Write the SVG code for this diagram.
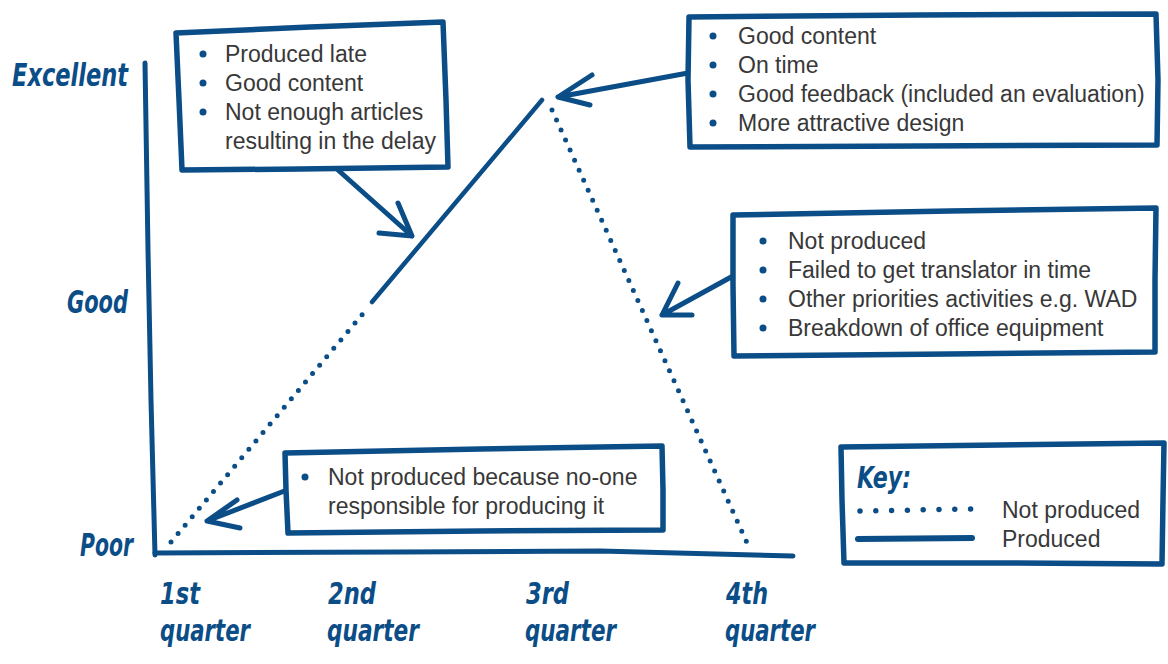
<svg xmlns="http://www.w3.org/2000/svg" width="1168" height="664" viewBox="0 0 1168 664">
<style>
.ln{fill:none;stroke:#0b4d87;stroke-width:5;stroke-linecap:round;stroke-linejoin:round}
.box{fill:#fff;stroke:#0b4d87;stroke-width:5.5;stroke-linejoin:round}
.dot{fill:none;stroke:#0b4d87;stroke-width:5;stroke-linecap:round;stroke-dasharray:0 11}
.sol{fill:none;stroke:#0b4d87;stroke-width:4.5;stroke-linecap:round}
.hand{font-family:"Liberation Sans Narrow","DejaVu Sans Condensed","Liberation Sans",sans-serif;font-weight:bold;font-style:italic;fill:#0b4d87}
.txt{font-family:"Liberation Sans",Arial,sans-serif;font-size:23px;fill:#383838}
.bul{fill:#0b4d87}
</style>
<rect width="1168" height="664" fill="#fff"/>
<g id="axes">
<path class="ln" d="M145,63 L148,250 L151,400 L155,555"/>
<path class="ln" d="M155,553 L400,552 L600,551 L793,556"/>
<text class="hand" x="12" y="86" font-size="32" textLength="116" lengthAdjust="spacingAndGlyphs">Excellent</text>
<text class="hand" x="67" y="313" font-size="32" textLength="61" lengthAdjust="spacingAndGlyphs">Good</text>
<text class="hand" x="80" y="556" font-size="32" textLength="53" lengthAdjust="spacingAndGlyphs">Poor</text>
<text class="hand" x="160" y="604" font-size="30" textLength="40" lengthAdjust="spacingAndGlyphs">1st</text>
<text class="hand" x="160" y="641" font-size="30" textLength="90" lengthAdjust="spacingAndGlyphs">quarter</text>
<text class="hand" x="328" y="604" font-size="30" textLength="48" lengthAdjust="spacingAndGlyphs">2nd</text>
<text class="hand" x="327" y="641" font-size="30" textLength="92" lengthAdjust="spacingAndGlyphs">quarter</text>
<text class="hand" x="526" y="604" font-size="30" textLength="43" lengthAdjust="spacingAndGlyphs">3rd</text>
<text class="hand" x="525" y="641" font-size="30" textLength="91" lengthAdjust="spacingAndGlyphs">quarter</text>
<text class="hand" x="726" y="604" font-size="30" textLength="42" lengthAdjust="spacingAndGlyphs">4th</text>
<text class="hand" x="725" y="641" font-size="30" textLength="90" lengthAdjust="spacingAndGlyphs">quarter</text>
</g>
<g id="trend">
<path class="dot" d="M171,542 L366,310"/>
<path class="sol" d="M372,302 L542,100"/>
<path class="dot" d="M552,110 L748,545"/>
</g>
<g id="connectors">
<path class="ln" d="M338,170 L412,236 M379,233 L412,236 L398,203"/>
<path class="ln" d="M688,73 L558,97 M592,75 L558,97 L590,105"/>
<path class="ln" d="M733,276 L662,315 M678,283 L662,315 L692,315"/>
<path class="ln" d="M287,490 L207,521 M237,500 L207,521 L240,528"/>
</g>
<g id="box1">
<path class="box" d="M176,33 L310,27 L443,22 L446,100 L448,167 L300,169 L182,170 L179,100 Z"/>
<circle class="bul" cx="203" cy="54" r="3.5"/><text class="txt" x="225" y="62">Produced late</text>
<circle class="bul" cx="203" cy="83" r="3.5"/><text class="txt" x="225" y="91">Good content</text>
<circle class="bul" cx="203" cy="112" r="3.5"/><text class="txt" x="225" y="120">Not enough articles</text>
<text class="txt" x="225" y="149">resulting in the delay</text>
</g>
<g id="box2">
<path class="box" d="M689,17 L920,15 L1156,14 L1158,80 L1157,145 L920,146 L690,147 L688,80 Z"/>
<circle class="bul" cx="713" cy="36" r="3.5"/><text class="txt" x="738" y="44">Good content</text>
<circle class="bul" cx="713" cy="65" r="3.5"/><text class="txt" x="738" y="73">On time</text>
<circle class="bul" cx="713" cy="94" r="3.5"/><text class="txt" x="738" y="102">Good feedback (included an evaluation)</text>
<circle class="bul" cx="713" cy="123" r="3.5"/><text class="txt" x="738" y="131">More attractive design</text>
</g>
<g id="box3">
<path class="box" d="M733,215 L950,211 L1156,208 L1155,280 L1155,352 L950,354 L734,356 L733,285 Z"/>
<circle class="bul" cx="763" cy="241" r="3.5"/><text class="txt" x="788" y="249">Not produced</text>
<circle class="bul" cx="763" cy="270" r="3.5"/><text class="txt" x="788" y="278">Failed to get translator in time</text>
<circle class="bul" cx="763" cy="299" r="3.5"/><text class="txt" x="788" y="307">Other priorities activities e.g. WAD</text>
<circle class="bul" cx="763" cy="328" r="3.5"/><text class="txt" x="788" y="336">Breakdown of office equipment</text>
</g>
<g id="box4">
<path class="box" d="M285,453 L480,449 L662,446 L663,490 L663,530 L480,531 L288,533 L286,490 Z"/>
<circle class="bul" cx="305" cy="477" r="3.5"/><text class="txt" x="328" y="485">Not produced because no-one</text>
<text class="txt" x="328" y="514">responsible for producing it</text>
</g>
<g id="key">
<path class="box" d="M841,447 L1000,445 L1164,443 L1163,500 L1162,564 L1000,563 L844,563 L842,500 Z"/>
<text class="hand" x="857" y="488" font-size="30" textLength="54" lengthAdjust="spacingAndGlyphs">Key:</text>
<path class="dot" d="M860,511 L972,509" style="stroke-dasharray:0 15.8;stroke-width:5.5"/>
<path class="sol" d="M858,539 L972,538" style="stroke-width:6"/>
<text class="txt" x="1002" y="518">Not produced</text>
<text class="txt" x="1002" y="547">Produced</text>
</g>
</svg>
